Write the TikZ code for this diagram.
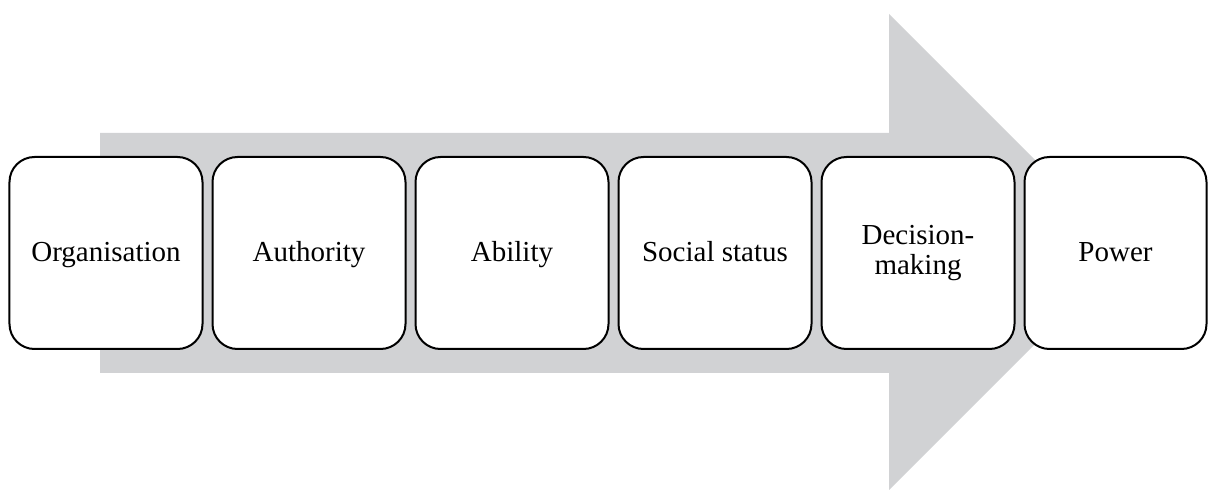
\documentclass[tikz,border=0pt]{standalone}
\usepackage{fontspec}
\setmainfont{Liberation Serif}
\usetikzlibrary{positioning}
\definecolor{flowgrey}{RGB}{209,210,212}

\begin{document}
\begin{tikzpicture}[
  node distance=2mm,
  stage/.style={draw, line width=0.04cm, rounded corners=0.5cm, fill=white,
                align=center, minimum width=3.86cm, minimum height=3.84cm,
                outer sep=0pt, inner sep=2pt,
                font=\fontsize{16.5}{17.5}\selectfont},
  oneline/.style={text height=13pt, text depth=3pt},
  flow/.style={fill=flowgrey, draw=none}]
\useasboundingbox (0,0) rectangle (24.18,9.78);
% big background arrow
\coordinate (shafttl) at (2.0,7.12);
\coordinate (shaftbl) at (2.0,2.32);
\coordinate (headtop) at (17.78,9.5);
\coordinate (headbot) at (17.78,-0.02);
\coordinate (tip) at (22.54,4.74);
\fill[flow] (shafttl) -- (17.78,7.12) -- (headtop) -- (tip) -- (headbot)
  -- (17.78,2.32) -- (shaftbl) -- cycle;
% stages
\node[stage, oneline] (org) at (2.12,4.72) {Organisation};
\node[stage, oneline, right=of org] (auth) {Authority};
\node[stage, oneline, right=of auth] (abil) {Ability};
\node[stage, oneline, right=of abil] (soc) {Social status};
\node[stage, right=of soc] (dec) {Decision-\\making};
\node[stage, oneline, right=of dec, minimum width=3.64cm] (pow) {Power};
\end{tikzpicture}
\end{document}
